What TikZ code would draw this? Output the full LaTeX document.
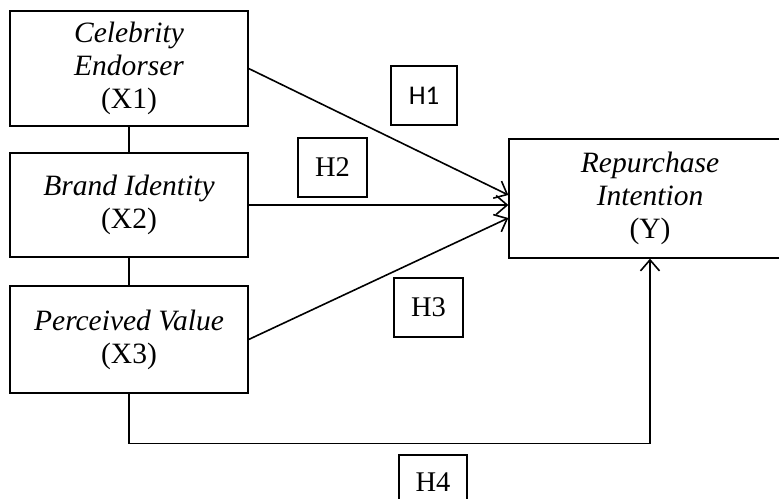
\documentclass[tikz,border=0pt]{standalone}
\usepackage{fontspec}
\setmainfont{Liberation Serif}
\newfontfamily\calibri{Carlito}
\usetikzlibrary{arrows.meta}
\begin{document}
\begin{tikzpicture}[x=1pt,y=-1pt,
  varbox/.style={draw,line width=1.3pt,align=center,inner sep=0pt,
    font=\fontsize{29.5}{33}\selectfont,
    execute at begin node={\rule{0pt}{29pt}}},
  hbox/.style={draw,line width=1.2pt,inner sep=0pt,
    font=\fontsize{28.5}{32}\selectfont},
  link/.style={line width=1.6pt},
  arr/.style={line width=1.6pt,-{Straight Barb[length=11pt,width=19pt,line width=1.6pt]}}]
\useasboundingbox (0,0) rectangle (779,498);
\node[varbox,minimum width=238pt,minimum height=115pt] (X1) at (129,68.5) {\textit{Celebrity}\\\textit{Endorser}\\(X1)};
\node[varbox,minimum width=238pt,minimum height=104pt] (X2) at (129,205) {\textit{Brand Identity}\\(X2)};
\node[varbox,minimum width=238pt,minimum height=107pt] (X3) at (129,339.5) {\textit{Perceived Value}\\(X3)};
\node[varbox,minimum width=282pt,minimum height=119pt] (Y) at (650,198.5) {\textit{Repurchase}\\\textit{Intention}\\(Y)};
\node[hbox,minimum width=66pt,minimum height=59pt,font=\calibri\fontsize{27}{32}\selectfont] (H1) at (424,95.5) {H1};
\node[hbox,minimum width=69pt,minimum height=59pt] (H2) at (332.5,167.5) {H2};
\node[hbox,minimum width=69pt,minimum height=59pt] (H3) at (428.5,307.5) {H3};
\node[hbox,minimum width=68pt,minimum height=59pt] (H4) at (433,484.5) {};
\node[font=\fontsize{28.5}{32}\selectfont,inner sep=0pt] (H4t) at (433,482) {H4};
\draw[link] (X1) -- (X2);
\draw[link] (X2) -- (X3);
\draw[arr] (X1.east) -- ([yshift=3.5pt]Y.west);
\draw[arr] (X2.east) -- (Y.west |- X2.east);
\draw[arr] (X3.east) -- ([yshift=-19.5pt]Y.west);
\draw[arr] (X3.south) -- ++(0,50) -| (Y.south);
\end{tikzpicture}
\end{document}
